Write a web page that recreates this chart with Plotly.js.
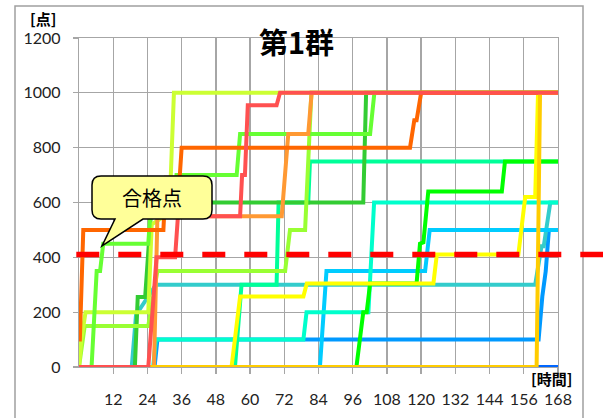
<!DOCTYPE html>
<html>
<head>
<meta charset="utf-8">
<script src="https://cdn.plot.ly/plotly-3.0.1.min.js"></script>
<style>html,body{margin:0;padding:0;background:#fff;}#chart{width:603px;height:418px;}</style>
</head>
<body>
<div id="chart"></div>
<script>
// ---- data (hours, points) ----
const xTicks = [12,24,36,48,60,72,84,96,108,120,132,144,156,168];
const yTicks = [0,200,400,600,800,1000,1200];
const passMark = 410;
const titleText = '第1群';
const calloutText = '合格点';
const yUnit = '[点]';
const xUnit = '[時間]';

const blue0X = [0,168];
const blue0Y = [0,0];
const dodgerX = [0,26.5,27.5,161.2,162.5,163.7,164.8,168];
const dodgerY = [0,0,100,100,257,350,500,500];
const tealX = [0,18.5,20.0,26.0,27.0,160.0,162.2,163.0,165.3,168];
const tealY = [0,0,190,280,300,300,440,440,600,600];
const skyX = [0,84.5,86.8,121.4,123.0,168];
const skyY = [0,0,350,350,500,500];
const aquaX = [0,26.0,27.0,78.7,79.8,101.5,103.5,168];
const aquaY = [0,0,100,100,200,200,600,600];
const springX = [0,54.7,57.0,69.3,70.0,80.4,81.0,168];
const springY = [0,0,300,300,600,600,750,750];
const brightX = [0,97.3,99.7,100.9,102.1,118.4,119.6,120.8,122.5,148.3,149.4,168];
const brightY = [0,0,200,200,305,305,450,455,640,640,750,750];
const yellowX = [0,53.5,56.5,78.7,79.9,124.3,125.5,154.1,156.5,160.0,161.0,168];
const yellowY = [0,0,257,257,305,305,410,410,620,620,1000,1000];
const darkGreenX = [0,19.6,20.6,23.2,25.5,99.7,100.7,168];
const darkGreenY = [0,0,255,255,600,600,1000,1000];
const greenBX = [0,2.0,24.3,27.5,72.3,74.0,79.3,81.5,168];
const greenBY = [0,150,150,350,350,500,500,1000,1000];
const yGreenX = [0,0.8,2.3,24.3,25.5,31.5,32.2,33.3,168];
const yGreenY = [0,100,200,200,520,560,700,1000,1000];
const greenAX = [0,4.4,6.2,7.4,8.5,24.3,25.3,33.5,34.2,55.3,56.5,102.1,103.6,168];
const greenAY = [0,0,350,350,450,450,600,600,700,700,850,850,1000,1000];
const lOrangeX = [0,26.3,27.5,71.1,73.4,80.4,81.6,168];
const lOrangeY = [0,0,550,550,850,850,1000,1000];
const orangeX = [0,0.3,1.5,29.6,30.5,35.3,36.0,116.1,117.6,118.4,120.0,168];
const orangeY = [100,100,500,500,690,690,800,800,900,900,1000,1000];
const goldX = [0,160.5,161.7,168];
const goldY = [0,0,1000,1000];
const redX = [0,24.3,27.2,33.7,34.7,56.5,57.2,58.2,59.2,69.3,70.5,168];
const redY = [0,0,400,400,550,550,700,700,955,955,1000,1000];

const series = [
  [blue0X, blue0Y, '#0066FF'],
  [dodgerX, dodgerY, '#0099FF'],
  [tealX, tealY, '#33CCCC'],
  [skyX, skyY, '#00CCFF'],
  [aquaX, aquaY, '#00FFCC'],
  [springX, springY, '#00FF99'],
  [brightX, brightY, '#00FF00'],
  [yellowX, yellowY, '#FFFF00'],
  [darkGreenX, darkGreenY, '#33CC33'],
  [greenBX, greenBY, '#99FF33'],
  [yGreenX, yGreenY, '#CCFF33'],
  [greenAX, greenAY, '#66FF33'],
  [lOrangeX, lOrangeY, '#FF9933'],
  [orangeX, orangeY, '#FF6600'],
  [goldX, goldY, '#FFCC00'],
  [redX, redY, '#FF5050']
];

const traces = series.map(s => ({
  type: 'scatter', mode: 'lines', x: s[0], y: s[1],
  line: {color: s[2], width: 4}, hoverinfo: 'skip'
}));

// ---- layout helpers (pixel -> paper) for decorations ----
const L = 79, T = 38, W = 479, H = 329;
const px = v => (v - L) / W;
const py = v => (T + H - v) / H;
function P(x, y) { return px(x).toFixed(5) + ',' + py(y).toFixed(5); }
const bx0 = 92, bx1 = 212, by0 = 176, by1 = 219, r = 9;
const bubble = 'M' + P(bx0 + r, by0) + ' L' + P(bx1 - r, by0) +
  ' Q' + P(bx1, by0) + ' ' + P(bx1, by0 + r) +
  ' L' + P(bx1, by1 - r) + ' Q' + P(bx1, by1) + ' ' + P(bx1 - r, by1) +
  ' L' + P(143, by1) + ' L' + P(102, 246) + ' L' + P(115, by1) +
  ' L' + P(bx0 + r, by1) + ' Q' + P(bx0, by1) + ' ' + P(bx0, by1 - r) +
  ' L' + P(bx0, by0 + r) + ' Q' + P(bx0, by0) + ' ' + P(bx0 + r, by0) + ' Z';

const gridC = '#A6A6A6';
const tickFont = {family: 'Lato, "Open Sans", sans-serif', size: 16, color: '#222'};
const cjk = '"Noto Sans CJK JP", "Noto Sans CJK SC", sans-serif';

const layout = {
  width: 603, height: 418,
  margin: {l: L, r: 603 - L - W, t: T, b: 418 - T - H, pad: 0},
  paper_bgcolor: '#fff', plot_bgcolor: '#fff',
  showlegend: false,
  xaxis: {
    range: [0, 168], tickvals: xTicks, ticktext: xTicks.map(String),
    showgrid: true, gridcolor: gridC, gridwidth: 1.3, zeroline: false,
    showline: true, linecolor: gridC, linewidth: 1.3, mirror: true,
    ticks: 'outside', ticklen: 6, tickcolor: gridC, tickwidth: 1.3,
    tickfont: tickFont, ticklabelstandoff: 11, fixedrange: true
  },
  yaxis: {
    range: [0, 1200], tickvals: yTicks, ticktext: yTicks.map(String),
    showgrid: true, gridcolor: gridC, gridwidth: 1.3, zeroline: false,
    showline: true, linecolor: gridC, linewidth: 1.3, mirror: true,
    ticks: 'outside', ticklen: 5, tickcolor: gridC, tickwidth: 1.3,
    tickfont: tickFont, ticklabelstandoff: 9, fixedrange: true
  },
  shapes: [
    {type: 'rect', xref: 'paper', yref: 'paper', x0: px(15), x1: px(583), y0: py(6), y1: py(440),
     line: {color: '#A0A0A0', width: 1.5}, fillcolor: 'rgba(0,0,0,0)', layer: 'below'},
    {type: 'line', xref: 'paper', yref: 'y', x0: px(76.3), x1: px(610), y0: passMark, y1: passMark,
     line: {color: '#FF0000', width: 5.5, dash: '23px,19px'}, layer: 'above'},
    {type: 'path', xref: 'paper', yref: 'paper', path: bubble,
     fillcolor: '#FFFF99', line: {color: '#000', width: 1.5}, layer: 'above'}
  ],
  annotations: [
    {xref: 'paper', yref: 'paper', x: px(296), y: py(41), text: '<b>' + titleText + '</b>', showarrow: false,
     font: {family: cjk, size: 29, color: '#000'}, xanchor: 'center', yanchor: 'middle'},
    {xref: 'paper', yref: 'paper', x: px(152), y: py(198), text: calloutText, showarrow: false,
     font: {family: cjk, size: 20, color: '#000'}, xanchor: 'center', yanchor: 'middle'},
    {xref: 'paper', yref: 'paper', x: px(43), y: py(19), text: '<b>' + yUnit + '</b>', showarrow: false,
     font: {family: cjk, size: 15, color: '#000'}, xanchor: 'center', yanchor: 'middle'},
    {xref: 'paper', yref: 'paper', x: px(551), y: py(379), text: '<b>' + xUnit + '</b>', showarrow: false,
     font: {family: cjk, size: 15, color: '#000'}, xanchor: 'center', yanchor: 'middle'}
  ]
};

Plotly.newPlot('chart', traces, layout, {staticPlot: true, displayModeBar: false});
</script>
</body>
</html>
